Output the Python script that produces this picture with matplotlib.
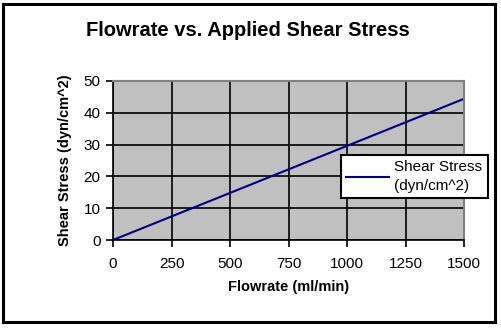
import matplotlib.pyplot as plt
from matplotlib.patches import Rectangle

plt.rcParams['font.family'] = ['Liberation Sans', 'DejaVu Sans']

# flowrate (ml/min) and resulting wall shear stress (dyn/cm^2)
flowrate = [0, 250, 500, 750, 1000, 1250, 1500]
shear_stress = [0, 7.4, 14.8, 22.2, 29.6, 37.0, 44.4]

x_ticks = [0, 250, 500, 750, 1000, 1250, 1500]
y_ticks = [0, 10, 20, 30, 40, 50]

fig = plt.figure(figsize=(5.02, 3.28), dpi=100)
ax = fig.add_axes([113 / 502, 1 - 240 / 328, (464 - 113) / 502, (240 - 81) / 328])

ax.set_facecolor('#C0C0C0')
line, = ax.plot(flowrate, shear_stress, color='#000080', lw=1.5,
                label='Shear Stress\n(dyn/cm^2)')

ax.set_xlim(0, 1500)
ax.set_ylim(0, 50)
ax.set_xticks(x_ticks)
ax.set_yticks(y_ticks)
ax.grid(True, color='black', lw=1.2)
ax.set_axisbelow(True)

ax.tick_params(direction='out', length=5, width=1.2, labelsize=11, pad=4)
ax.tick_params(axis='x', pad=7)
for side in ['left', 'bottom']:
    ax.spines[side].set_color('black')
    ax.spines[side].set_linewidth(1.2)
for side in ['top', 'right']:
    ax.spines[side].set_color('#808080')
    ax.spines[side].set_linewidth(1.5)

ax.set_xlabel('Flowrate (ml/min)', fontsize=10.5, fontweight='bold', labelpad=7)
ax.set_ylabel('Shear Stress (dyn/cm^2)', fontsize=10.5, fontweight='bold', labelpad=8)

fig.text(248 / 502, 1 - 30 / 328, 'Flowrate vs. Applied Shear Stress',
         ha='center', va='center', fontsize=14.5, fontweight='bold')

leg = fig.legend(handles=[line], loc='upper left',
                 bbox_to_anchor=(341 / 502, 1 - 155 / 328),
                 frameon=True, fancybox=False, fontsize=11,
                 borderpad=0.35, handlelength=2.8, handletextpad=0.35,
                 borderaxespad=0)
for t in leg.get_texts():
    t.set_linespacing(1.4)
leg.get_frame().set_edgecolor('black')
leg.get_frame().set_linewidth(1.5)
leg.get_frame().set_facecolor('white')
leg.get_frame().set_alpha(1)

# outer chart border
fig.patches.append(Rectangle((3 / 502, 6 / 328), 492 / 502, 318 / 328,
                             transform=fig.transFigure, fill=False,
                             edgecolor='black', lw=2.2))

fig.savefig('out.png', dpi=100)
